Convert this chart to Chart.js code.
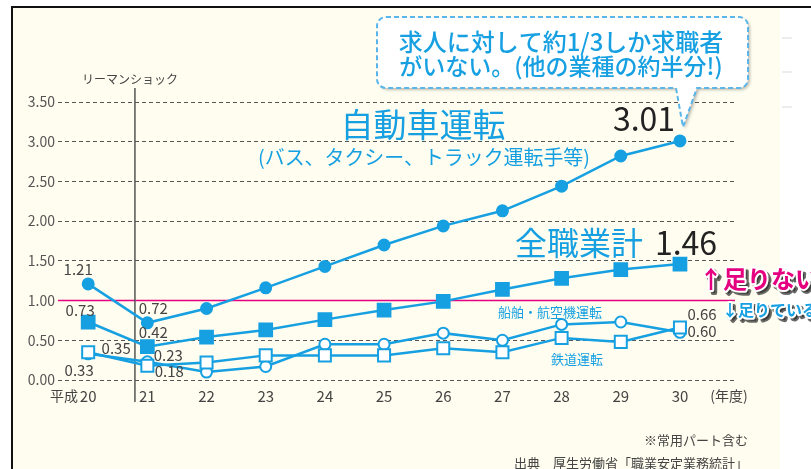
<!DOCTYPE html>
<html lang="ja">
<head>
<meta charset="UTF-8">
<title>有効求人倍率の推移</title>
<script src="https://cdn.jsdelivr.net/npm/chart.js"></script>
<style>
  html, body { margin: 0; padding: 0; background: #fff; }
  #chart { display: block; }
</style>
</head>
<body>
<canvas id="chart" width="811" height="469"></canvas>
<script>
const years      = [20, 21, 22, 23, 24, 25, 26, 27, 28, 29, 30];
const yearLabels = ['20', '21', '22', '23', '24', '25', '26', '27', '28', '29', '30'];
const yTicks     = [0, 0.5, 1.0, 1.5, 2.0, 2.5, 3.0, 3.5];

// 自動車運転 / 全職業計 / 船舶・航空機運転 / 鉄道運転
const jidousha = [1.21, 0.72, 0.90, 1.16, 1.43, 1.70, 1.94, 2.13, 2.44, 2.82, 3.01];
const zenShoku = [0.73, 0.42, 0.54, 0.63, 0.76, 0.88, 0.99, 1.14, 1.28, 1.39, 1.46];
const senpaku  = [0.33, 0.23, 0.10, 0.17, 0.45, 0.45, 0.59, 0.50, 0.70, 0.73, 0.60];
const tetsudo  = [0.35, 0.18, 0.22, 0.31, 0.31, 0.31, 0.40, 0.35, 0.53, 0.48, 0.66];

const lehmanYear = 20.79;
const BLUE = '#16a0e2';
const PINK = '#e5007f';
const JP = '"Noto Sans CJK JP", "Noto Sans", sans-serif';

const pts = arr => arr.map((v, i) => ({ x: years[i], y: v }));

function txt(ctx, s, x, y, size, color, align, weight) {
  ctx.font = (weight || 400) + ' ' + size + 'px ' + JP;
  ctx.fillStyle = color;
  ctx.textAlign = align || 'center';
  ctx.textBaseline = 'middle';
  ctx.fillText(s, x, y);
}

const decor = {
  id: 'decor',
  beforeDraw(chart) {
    const ctx = chart.ctx;
    ctx.save();
    ctx.fillStyle = '#ffffff';
    ctx.fillRect(0, 0, 811, 469);
    ctx.fillStyle = '#fffdef';
    ctx.fillRect(12, 8, 768, 461);
    // faint lines on the right margin
    ctx.strokeStyle = '#ececec';
    ctx.lineWidth = 2;
    [38, 72, 107].forEach(y => { ctx.beginPath(); ctx.moveTo(782, y); ctx.lineTo(792, y); ctx.stroke(); });
    // frame
    ctx.strokeStyle = '#111';
    ctx.lineWidth = 2;
    ctx.beginPath(); ctx.moveTo(12, 469); ctx.lineTo(12, 7); ctx.lineTo(811, 7); ctx.stroke();
    ctx.restore();
  },
  beforeDatasetsDraw(chart) {
    const ctx = chart.ctx, xs = chart.scales.x, ys = chart.scales.y, a = chart.chartArea;
    ctx.save();
    // 1.00 line
    const y1 = ys.getPixelForValue(1);
    ctx.strokeStyle = PINK;
    ctx.lineWidth = 1.5;
    ctx.beginPath(); ctx.moveTo(a.left, y1); ctx.lineTo(a.right, y1); ctx.stroke();
    // Lehman shock
    const lx = xs.getPixelForValue(lehmanYear);
    ctx.strokeStyle = '#555';
    ctx.lineWidth = 1.5;
    ctx.beginPath(); ctx.moveTo(lx, 88); ctx.lineTo(lx, 402); ctx.stroke();
    txt(ctx, 'リーマンショック', lx - 5, 79, 12, '#444');
    ctx.restore();
  },
  afterDraw(chart) {
    const ctx = chart.ctx, xs = chart.scales.x, ys = chart.scales.y;
    const px = i => xs.getPixelForValue(years[i]);
    const py = v => ys.getPixelForValue(v);
    ctx.save();

    // axis extras
    txt(ctx, '平成', 64, 396, 14, '#444');
    txt(ctx, '(年度)', 729, 396, 14, '#444');

    // value labels
    const last = years.length - 1;
    const lab = (v, x, y) => txt(ctx, v.toFixed(2), x, y, 15, '#444');
    lab(jidousha[0], px(0) - 10, py(jidousha[0]) - 15);
    lab(zenShoku[0], px(0) - 8, py(zenShoku[0]) - 12);
    lab(tetsudo[0], px(0) + 28, py(tetsudo[0]) - 4);
    lab(senpaku[0], px(0) - 9, py(senpaku[0]) + 17);
    lab(jidousha[1], px(1) + 6, py(jidousha[1]) - 15);
    lab(zenShoku[1], px(1) + 6, py(zenShoku[1]) - 14);
    lab(senpaku[1], px(1) + 21, py(senpaku[1]) - 6);
    lab(tetsudo[1], px(1) + 22, py(tetsudo[1]) + 6);
    lab(tetsudo[last], px(last) + 22, py(tetsudo[last]) - 13);
    lab(senpaku[last], px(last) + 22, py(senpaku[last]) - 1);

    // series titles
    txt(ctx, '自動車運転', 423, 124, 33, BLUE);
    ctx.font = '400 20px ' + JP;
    ctx.fillStyle = BLUE; ctx.textAlign = 'left';
    ctx.fillText('(バス、タクシー、トラック運転手等)', 258, 157, 332);
    txt(ctx, jidousha[last].toFixed(2), 644, 119, 32, '#222');
    txt(ctx, '全職業計', 579, 243, 32, BLUE);
    txt(ctx, zenShoku[last].toFixed(2), 686, 243, 32, '#222');
    txt(ctx, '船舶・航空機運転', 550, 312, 13, BLUE);
    txt(ctx, '鉄道運転', 577, 359, 13, BLUE);

    // callout
    const x0 = 377, x1 = 748, t0 = 17, b0 = 88, r = 9;
    ctx.beginPath();
    ctx.moveTo(x0 + r, t0);
    ctx.lineTo(x1 - r, t0);
    ctx.arcTo(x1, t0, x1, t0 + r, r);
    ctx.lineTo(x1, b0 - r);
    ctx.arcTo(x1, b0, x1 - r, b0, r);
    ctx.lineTo(697, b0);
    ctx.lineTo(683, 127);
    ctx.lineTo(676, b0);
    ctx.lineTo(x0 + r, b0);
    ctx.arcTo(x0, b0, x0, b0 - r, r);
    ctx.lineTo(x0, t0 + r);
    ctx.arcTo(x0, t0, x0 + r, t0, r);
    ctx.closePath();
    ctx.shadowColor = 'rgba(0,0,0,0.25)';
    ctx.shadowOffsetX = 2; ctx.shadowOffsetY = 2; ctx.shadowBlur = 3;
    ctx.fillStyle = '#fff';
    ctx.fill();
    ctx.shadowColor = 'transparent';
    ctx.setLineDash([5, 3]);
    ctx.strokeStyle = '#5ab6ea';
    ctx.lineWidth = 2;
    ctx.stroke();
    ctx.setLineDash([]);
    txt(ctx, '求人に対して約1/3しか求職者', 561, 42, 24, BLUE, 'center', 500);
    txt(ctx, 'がいない。(他の業種の約半分!)', 561, 66, 23, BLUE, 'center', 500);

    // 足りない / 足りている
    const shadowText = (s, x, y, size, color) => {
      ctx.font = '700 ' + size + 'px ' + JP;
      ctx.textAlign = 'left'; ctx.textBaseline = 'middle';
      ctx.lineJoin = 'round';
      ctx.strokeStyle = 'rgba(40,40,40,0.7)'; ctx.lineWidth = 4;
      ctx.strokeText(s, x + 3, y + 3);
      ctx.fillStyle = 'rgba(40,40,40,0.7)';
      ctx.fillText(s, x + 3, y + 3);
      ctx.strokeStyle = '#fff'; ctx.lineWidth = 4;
      ctx.strokeText(s, x, y);
      ctx.fillStyle = color;
      ctx.fillText(s, x, y);
    };
    shadowText('↑足りない', 699, 279, 24, PINK);
    shadowText('↓足りている', 722, 310, 16, BLUE);

    // notes
    txt(ctx, '※常用パート含む', 748, 440, 13, '#444', 'right');
    txt(ctx, '出典　厚生労働省「職業安定業務統計」', 748, 463, 13, '#444', 'right');
    ctx.restore();
  }
};

const line = (data, style, filled, r) => ({
  data: pts(data),
  borderColor: BLUE,
  borderWidth: 2.5,
  pointStyle: style,
  pointRadius: r,
  pointBorderWidth: 2,
  pointBackgroundColor: filled ? BLUE : '#fff',
  pointBorderColor: BLUE,
  clip: false
});

new Chart(document.getElementById('chart'), {
  type: 'line',
  data: {
    datasets: [
      line(tetsudo, 'rect', false, 8.5),
      line(senpaku, 'circle', false, 5.5),
      line(zenShoku, 'rect', true, 9),
      line(jidousha, 'circle', true, 5.5)
    ]
  },
  options: {
    responsive: false,
    animation: false,
    layout: { padding: { left: 0, right: 76, top: 102, bottom: 59 } },
    plugins: { legend: { display: false }, tooltip: { enabled: false } },
    scales: {
      x: {
        type: 'linear',
        min: 19.49,
        max: 30.93,
        afterBuildTicks: s => { s.ticks = years.map(v => ({ value: v })); },
        afterFit: s => { s.height = 30; },
        grid: { display: false },
        border: { display: false },
        ticks: {
          padding: -1,
          color: '#444',
          font: { family: JP, size: 15 },
          callback: v => yearLabels[years.indexOf(v)]
        }
      },
      y: {
        min: 0,
        max: 3.5,
        afterBuildTicks: s => { s.ticks = yTicks.map(v => ({ value: v })); },
        afterFit: s => { s.width = 58; },
        border: { display: false, dash: [4, 3] },
        grid: { color: '#555', lineWidth: 1, drawTicks: false },
        ticks: {
          padding: 3,
          color: '#555',
          font: { family: JP, size: 14 },
          callback: v => v.toFixed(2)
        }
      }
    }
  },
  plugins: [decor]
});
</script>
</body>
</html>
